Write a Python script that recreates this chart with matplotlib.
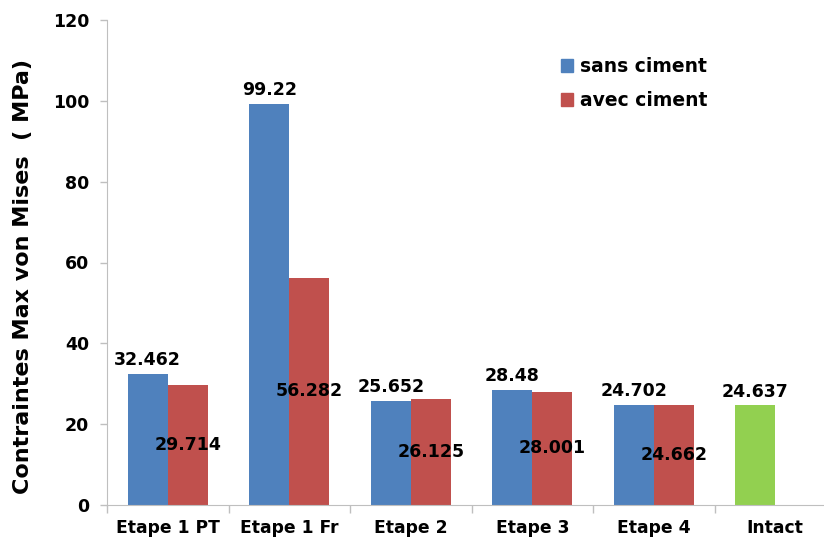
import matplotlib
matplotlib.use("Agg")
import matplotlib.pyplot as plt
import numpy as np
from matplotlib.patches import Patch

categories = ["Etape 1 PT", "Etape 1 Fr", "Etape 2", "Etape 3", "Etape 4", "Intact"]
sans_ciment = [32.462, 99.22, 25.652, 28.48, 24.702, 24.637]
avec_ciment = [29.714, 56.282, 26.125, 28.001, 24.662]
sans_labels = ["32.462", "99.22", "25.652", "28.48", "24.702", "24.637"]
avec_labels = ["29.714", "56.282", "26.125", "28.001", "24.662"]

blue = "#4F81BD"
red = "#C0504D"
green = "#92D050"

plt.rcParams['font.family'] = ['DejaVu Sans']
fig = plt.figure(figsize=(8.24, 5.43), dpi=100)
ax = fig.add_axes([107/824, 1-505/543, 729/824, 485/543])

x = np.arange(len(categories))
w = 0.33
sans_colors = [blue]*(len(categories)-1) + [green]
ax.bar(x - w/2, sans_ciment, width=w, color=sans_colors)
xr = x[:len(avec_ciment)]
ax.bar(xr + w/2, avec_ciment, width=w, color=red)

for xi, v, lab in zip(x, sans_ciment, sans_labels):
    ax.text(xi - w/2, v + 1.2, lab, ha="center", va="bottom", fontsize=12.5, fontweight="bold")
for xi, v, lab in zip(xr, avec_ciment, avec_labels):
    ax.text(xi + w/2, v/2, lab, ha="center", va="center", fontsize=12.5, fontweight="bold")

ax.set_xlim(-0.5, len(categories) - 0.5)
ax.set_ylim(0, 120)
ax.set_yticks(np.arange(0, 121, 20))
ax.set_xticks(x)
ax.set_xticklabels(categories, fontsize=12.3, fontweight="bold")
ax.set_xticks(np.arange(-0.5, len(categories), 1), minor=True)
ax.tick_params(axis="x", which="major", length=0, pad=10)
ax.tick_params(axis="x", which="minor", length=6, color="#BFBFBF", width=1)
ax.tick_params(axis="y", length=5, color="#BFBFBF", width=1, pad=8, labelsize=12.5)
for t in ax.get_yticklabels():
    t.set_fontweight("bold")

for s in ["top", "right"]:
    ax.spines[s].set_visible(False)
for s in ["left", "bottom"]:
    ax.spines[s].set_color("#BFBFBF")

ax.set_ylabel("Contraintes Max von Mises  ( MPa)", fontsize=16, fontweight="bold")
ax.yaxis.set_label_coords(-0.102, 0.472)

handles = [Patch(color=blue, label="sans ciment"), Patch(color=red, label="avec ciment")]
ax.legend(handles=handles, loc="upper left", bbox_to_anchor=(544/824, 1-40/543), bbox_transform=fig.transFigure,
          frameon=False, prop={"weight": "bold", "size": 13.5}, handlelength=0.65, handleheight=0.65,
          handletextpad=0.35, labelspacing=0.8)

fig.savefig("out.png", dpi=100)
